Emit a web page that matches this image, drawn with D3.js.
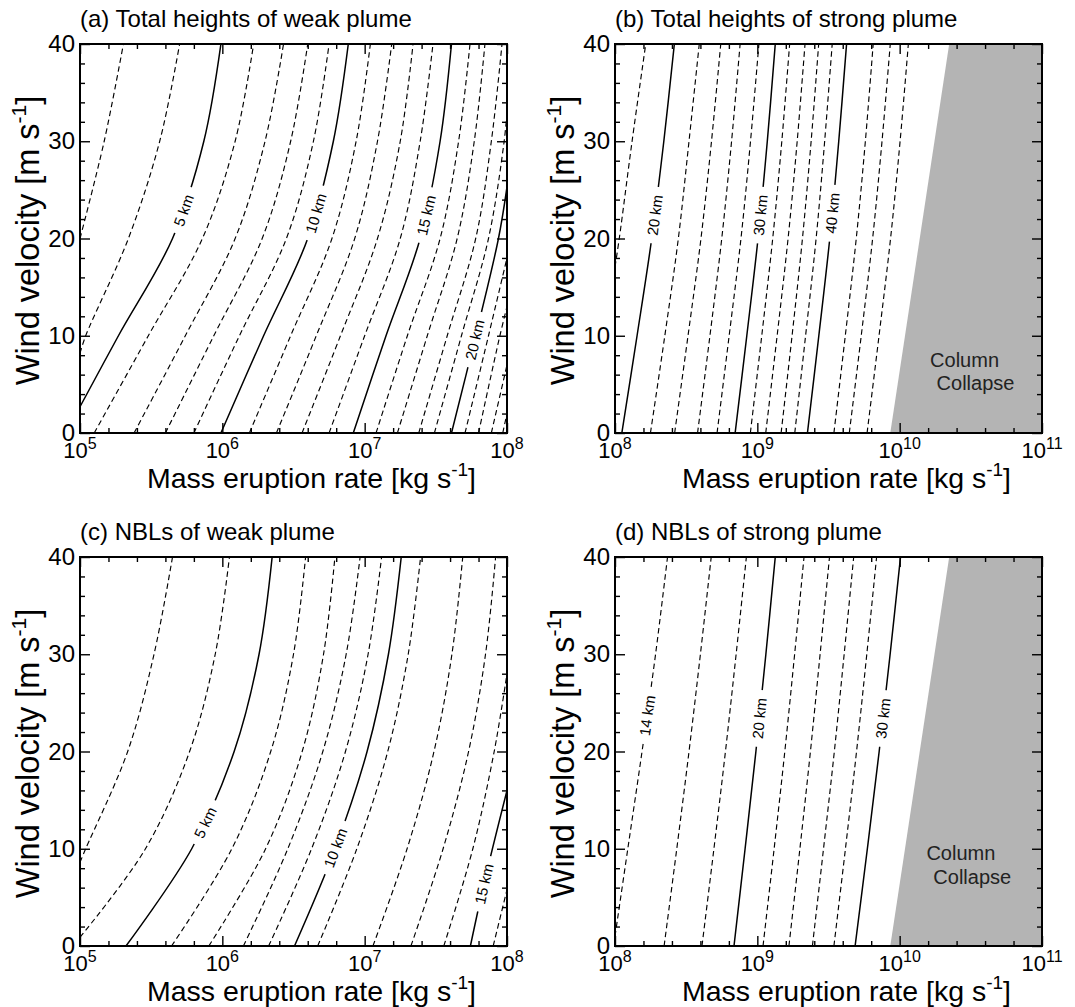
<!DOCTYPE html>
<html>
<head>
<meta charset="utf-8">
<script src="https://d3js.org/d3.v7.min.js"></script>
<style>
  body { margin: 0; background: #fff; }
  svg text { font-family: 'Liberation Sans', Arial, sans-serif; fill: #000; }
</style>
</head>
<body>
<div id="chart"></div>
<script>
// Contour lines: each line is a list of [wind velocity, log10(MER)] points.
// Edge points mark where a line enters or leaves the frame.

var windTicks = [0, 10, 20, 30, 40];
var weakDecades = [5, 6, 7, 8];
var strongDecades = [8, 9, 10, 11];

// (a) total heights of weak plume, 1 km interval
var aLevels = [3, 4, 5, 6, 7, 8, 9, 10, 11, 12, 13, 14, 15, 16, 17, 18, 19, 20, 21, 22, 23, 24];
var aLines = [
  [[20, 5.0], [30, 5.17], [40, 5.305]],
  [[8.2, 5.0], [10, 5.04], [20, 5.34], [30, 5.56], [40, 5.70]],
  [[2.7, 5.0], [10, 5.27], [20, 5.65], [30, 5.87], [40, 5.99]],
  [[0, 5.10], [10, 5.48], [20, 5.86], [30, 6.09], [40, 6.22]],
  [[0, 5.38], [10, 5.74], [20, 6.09], [30, 6.30], [40, 6.43]],
  [[0, 5.60], [10, 5.94], [20, 6.28], [30, 6.48], [40, 6.60]],
  [[0, 5.80], [10, 6.12], [20, 6.45], [30, 6.64], [40, 6.75]],
  [[0, 5.99], [10, 6.29], [20, 6.60], [30, 6.78], [40, 6.885]],
  [[0, 6.19], [10, 6.48], [20, 6.77], [30, 6.94], [40, 7.04]],
  [[0, 6.38], [10, 6.66], [20, 6.93], [30, 7.09], [40, 7.19]],
  [[0, 6.56], [10, 6.83], [20, 7.09], [30, 7.25], [40, 7.34]],
  [[0, 6.75], [10, 7.00], [20, 7.25], [30, 7.39], [40, 7.48]],
  [[0, 6.92], [10, 7.15], [20, 7.39], [30, 7.53], [40, 7.61]],
  [[0, 7.08], [10, 7.30], [20, 7.53], [30, 7.66], [40, 7.74]],
  [[0, 7.23], [10, 7.44], [20, 7.65], [30, 7.77], [40, 7.845]],
  [[0, 7.38], [10, 7.58], [20, 7.78], [30, 7.89], [40, 7.965]],
  [[0, 7.49], [10, 7.68], [20, 7.87], [30, 7.98], [33, 8.0]],
  [[0, 7.61], [10, 7.78], [20, 7.94], [25.3, 8.0]],
  [[0, 7.705], [10, 7.87], [18, 8.0]],
  [[0, 7.80], [10, 7.95], [13, 8.0]],
  [[0, 7.89], [7, 8.0]],
  [[0, 7.97], [2, 8.0]]
];
var aSolid = [5, 10, 15, 20];
var aLabels = [[5, 22.9], [10, 22.6], [15, 22.4], [20, 9.6]];

// (b) total heights of strong plume, 2 km interval
var bLevels = [18, 20, 22, 24, 26, 28, 30, 32, 34, 36, 38, 40, 44, 46, 48];
var bLines = [
  [[17.1, 8.0], [20, 8.03], [30, 8.12], [40, 8.216]],
  [[0, 8.048], [10, 8.155], [20, 8.258], [30, 8.343], [40, 8.417]],
  [[0, 8.249], [10, 8.35], [20, 8.445], [30, 8.52], [40, 8.592]],
  [[0, 8.419], [10, 8.513], [20, 8.604], [30, 8.678], [40, 8.743]],
  [[0, 8.58], [10, 8.667], [20, 8.75], [30, 8.819], [40, 8.879]],
  [[0, 8.717], [10, 8.802], [20, 8.885], [30, 8.952], [40, 9.011]],
  [[0, 8.844], [10, 8.926], [20, 9.005], [30, 9.07], [40, 9.126]],
  [[0, 8.951], [10, 9.031], [20, 9.108], [30, 9.172], [40, 9.227]],
  [[0, 9.059], [10, 9.139], [20, 9.216], [30, 9.28], [40, 9.335]],
  [[0, 9.167], [10, 9.244], [20, 9.317], [30, 9.378], [40, 9.431]],
  [[0, 9.263], [10, 9.339], [20, 9.413], [30, 9.473], [40, 9.526]],
  [[0, 9.352], [10, 9.432], [20, 9.509], [30, 9.572], [40, 9.627]],
  [[0, 9.538], [10, 9.618], [20, 9.695], [30, 9.759], [40, 9.814]],
  [[0, 9.646], [10, 9.73], [20, 9.81], [30, 9.876], [40, 9.934]],
  [[0, 9.771], [10, 9.855], [20, 9.936], [30, 10.003], [40, 10.061]]
];
var bSolid = [20, 30, 40];
var bLabels = [[20, 22.4], [30, 22.4], [40, 22.6]];

// (c) NBLs of weak plume, 1 km interval
var cLevels = [3, 4, 5, 6, 7, 8, 9, 10, 11, 12, 13, 14, 15, 16];
var cLines = [
  [[8.6, 5.0], [10, 5.04], [20, 5.335], [30, 5.52], [40, 5.65]],
  [[0.9, 5.0], [10, 5.46], [20, 5.77], [30, 5.95], [40, 6.05]],
  [[0, 5.323], [10, 5.785], [20, 6.083], [30, 6.258], [40, 6.35]],
  [[0, 5.643], [10, 6.067], [20, 6.34], [30, 6.50], [40, 6.585]],
  [[0, 5.905], [10, 6.304], [20, 6.561], [30, 6.711], [40, 6.791]],
  [[0, 6.148], [10, 6.46], [20, 6.706], [30, 6.87], [40, 6.968]],
  [[0, 6.325], [10, 6.627], [20, 6.865], [30, 7.024], [40, 7.119]],
  [[0, 6.507], [10, 6.792], [20, 7.017], [30, 7.167], [40, 7.257]],
  [[0, 6.67], [10, 6.945], [20, 7.162], [30, 7.306], [40, 7.393]],
  [[0, 7.058], [10, 7.298], [20, 7.487], [30, 7.613], [40, 7.689]],
  [[0, 7.325], [10, 7.551], [20, 7.73], [30, 7.849], [40, 7.92]],
  [[0, 7.556], [10, 7.76], [20, 7.91], [28, 8.0]],
  [[0, 7.743], [6.5, 7.84], [16, 8.0]],
  [[0, 7.903], [5.8, 8.0]]
];
var cSolid = [5, 10, 15];
var cLabels = [[5, 12.7], [10, 10.1], [15, 6.4]];

// (d) NBLs of strong plume, 2 km interval
var dLevels = [14, 16, 18, 20, 22, 24, 26, 28, 30];
var dLines = [
  [[1.0, 8.0], [10, 8.09], [20, 8.19], [30, 8.285], [40, 8.369]],
  [[0, 8.345], [10, 8.434], [20, 8.52], [30, 8.60], [40, 8.676]],
  [[0, 8.611], [10, 8.695], [20, 8.776], [30, 8.851], [40, 8.923]],
  [[0, 8.836], [10, 8.914], [20, 8.99], [30, 9.06], [40, 9.126]],
  [[0, 9.04], [10, 9.118], [20, 9.193], [30, 9.262], [40, 9.328]],
  [[0, 9.222], [10, 9.299], [20, 9.373], [30, 9.441], [40, 9.507]],
  [[0, 9.387], [10, 9.465], [20, 9.541], [30, 9.61], [40, 9.677]],
  [[0, 9.538], [10, 9.619], [20, 9.697], [30, 9.769], [40, 9.838]],
  [[0, 9.687], [10, 9.773], [20, 9.856], [30, 9.933], [40, 10.006]]
];
var dSolid = [20, 30];
var dLabels = [[14, 23.7], [20, 23.4], [30, 23.4]];

// column collapse boundary (wind velocity, log10 MER)
var collapseWind = [0, 40];
var collapseMer = [9.934, 10.348];
// "Column Collapse" text anchors: [log10 MER, wind velocity] per line of text
var bCollapseText = [[10.456, 7.5], [10.533, 5.1]];
var dCollapseText = [[10.43, 9.6], [10.51, 7.05]];

var panels = [
  {id: "a", title: "(a) Total heights of weak plume", x0: 80, y0: 44, dec: weakDecades,
   levels: aLevels, lines: aLines, solid: aSolid, labels: aLabels, collapse: null},
  {id: "b", title: "(b) Total heights of strong plume", x0: 615, y0: 44, dec: strongDecades,
   levels: bLevels, lines: bLines, solid: bSolid, labels: bLabels, collapse: bCollapseText},
  {id: "c", title: "(c) NBLs of weak plume", x0: 80, y0: 557, dec: weakDecades,
   levels: cLevels, lines: cLines, solid: cSolid, labels: cLabels, collapse: null},
  {id: "d", title: "(d) NBLs of strong plume", x0: 615, y0: 557, dec: strongDecades,
   levels: dLevels, lines: dLines, solid: dSolid, labels: dLabels, collapse: dCollapseText}
];

var pw = 427, ph = 389;

var svg = d3.select("#chart")
  .append("svg")
  .attr("width", 1075)
  .attr("height", 1007);

panels.forEach(function (p) {
  var g = svg.append("g").attr("transform", "translate(" + p.x0 + "," + p.y0 + ")");

  var x = d3.scaleLog()
    .domain([Math.pow(10, p.dec[0]), Math.pow(10, p.dec[p.dec.length - 1])])
    .range([0, pw]);
  var y = d3.scaleLinear().domain([0, 40]).range([ph, 0]);

  g.append("clipPath").attr("id", "clip-" + p.id)
    .append("rect").attr("width", pw).attr("height", ph);

  var mask = g.append("mask").attr("id", "mask-" + p.id)
    .attr("maskUnits", "userSpaceOnUse")
    .attr("x", -10).attr("y", -10).attr("width", pw + 20).attr("height", ph + 20);
  mask.append("rect").attr("x", -10).attr("y", -10)
    .attr("width", pw + 20).attr("height", ph + 20).attr("fill", "#fff");

  var plot = g.append("g").attr("clip-path", "url(#clip-" + p.id + ")");

  // collapse region
  if (p.collapse) {
    var xmax = x.domain()[1];
    var poly = [
      [Math.pow(10, collapseMer[0]), collapseWind[0]],
      [Math.pow(10, collapseMer[1]), collapseWind[1]],
      [xmax, collapseWind[1]],
      [xmax, collapseWind[0]]
    ];
    plot.append("path")
      .attr("d", d3.line().x(function (d) { return x(d[0]); }).y(function (d) { return y(d[1]); })(poly) + "Z")
      .attr("fill", "#b4b4b4");
    g.selectAll(".collapse-text")
      .data(p.collapse)
      .enter().append("text")
      .attr("x", function (d) { return x(Math.pow(10, d[0])); })
      .attr("y", function (d) { return y(d[1]); })
      .attr("text-anchor", "middle").attr("dy", "0.35em")
      .style("font-size", "20px").style("fill", "#222")
      .text(function (d, i) { return i === 0 ? "Column" : "Collapse"; });
  }

  var lineGen = d3.line()
    .x(function (d) { return x(Math.pow(10, d[1])); })
    .y(function (d) { return y(d[0]); })
    .curve(d3.curveCatmullRom.alpha(0.5));

  var lines = plot.append("g").attr("mask", "url(#mask-" + p.id + ")");
  var paths = lines.selectAll("path")
    .data(p.lines)
    .enter().append("path")
    .attr("d", lineGen)
    .attr("fill", "none")
    .attr("stroke", "#000")
    .attr("stroke-width", function (d, i) { return p.solid.indexOf(p.levels[i]) >= 0 ? 1.5 : 1.15; })
    .attr("stroke-dasharray", function (d, i) { return p.solid.indexOf(p.levels[i]) >= 0 ? null : "5.5,3.5"; });

  // inline contour labels
  p.labels.forEach(function (lab) {
    var node = paths.nodes()[p.levels.indexOf(lab[0])];
    var total = node.getTotalLength();
    var target = y(lab[1]);
    var lo = 0, hi = total;
    for (var k = 0; k < 40; k++) {
      var mid = (lo + hi) / 2;
      if (node.getPointAtLength(mid).y > target) lo = mid; else hi = mid;
    }
    var s = (lo + hi) / 2;
    var pt = node.getPointAtLength(s);
    var a = node.getPointAtLength(Math.max(0, s - 3));
    var b = node.getPointAtLength(Math.min(total, s + 3));
    var ang = Math.atan2(b.y - a.y, b.x - a.x) * 180 / Math.PI;
    var tr = "translate(" + pt.x + "," + pt.y + ") rotate(" + ang + ")";
    var t = g.append("text")
      .attr("transform", tr)
      .attr("text-anchor", "middle")
      .attr("dy", "0.36em")
      .style("font-size", "15px")
      .text(lab[0] + " km");
    var len = t.node().getComputedTextLength();
    mask.append("rect")
      .attr("transform", tr)
      .attr("x", -len / 2 - 8).attr("y", -4)
      .attr("width", len + 16).attr("height", 8)
      .attr("fill", "#000");
  });

  // ticks
  var majorX = p.dec.map(function (e) { return Math.pow(10, e); });
  var minorX = d3.range(p.dec[0] * 5, p.dec[p.dec.length - 1] * 5 + 1)
    .filter(function (k) { return k % 5 !== 0; })
    .map(function (k) { return Math.pow(10, k / 5); });
  var minorY = d3.range(0, 41, 2).filter(function (v) { return v % 10 !== 0; });

  function tickAxis(axis, values, size, tx, ty) {
    var ag = g.append("g").attr("transform", "translate(" + tx + "," + ty + ")")
      .call(axis.tickValues(values).tickSize(size).tickFormat(""));
    ag.select(".domain").remove();
    ag.selectAll("line").attr("stroke", "#000").attr("stroke-width", 1.4);
  }
  tickAxis(d3.axisBottom(x), majorX, -10, 0, ph);
  tickAxis(d3.axisBottom(x), minorX, -5, 0, ph);
  tickAxis(d3.axisTop(x), majorX, -10, 0, 0);
  tickAxis(d3.axisTop(x), minorX, -5, 0, 0);
  tickAxis(d3.axisLeft(y), windTicks, -10, 0, 0);
  tickAxis(d3.axisLeft(y), minorY, -5, 0, 0);
  tickAxis(d3.axisRight(y), windTicks, -10, pw, 0);
  tickAxis(d3.axisRight(y), minorY, -5, pw, 0);

  // frame
  g.append("rect").attr("width", pw).attr("height", ph)
    .attr("fill", "none").attr("stroke", "#000").attr("stroke-width", 2);

  // tick labels
  g.selectAll(".xlab").data(p.dec).enter().append("text")
    .attr("x", function (e) { return x(Math.pow(10, e)); })
    .attr("y", ph + 25)
    .attr("text-anchor", "middle")
    .style("font-size", "22px")
    .each(function (e) {
      var t = d3.select(this);
      t.append("tspan").text("10");
      t.append("tspan").attr("dy", -9).style("font-size", "16px").text(e);
    });
  g.selectAll(".ylab").data(windTicks).enter().append("text")
    .attr("x", -5)
    .attr("y", function (v) { return y(v); })
    .attr("dy", "0.34em")
    .attr("text-anchor", "end")
    .style("font-size", "24px")
    .text(function (v) { return v; });

  // title
  g.append("text").attr("x", 0).attr("y", -17)
    .style("font-size", "24px")
    .text(p.title);

  // axis titles
  var xt = g.append("text")
    .attr("x", pw / 2 + 18).attr("y", ph + 55)
    .attr("text-anchor", "middle")
    .style("font-size", "28.5px");
  xt.append("tspan").text("Mass eruption rate [kg s");
  xt.append("tspan").attr("dy", -12).style("font-size", "19px").text("-1");
  xt.append("tspan").attr("dy", 12).text("]");

  var yt = g.append("text")
    .attr("transform", "translate(-53," + (ph / 2 + 2) + ") rotate(-90)")
    .attr("text-anchor", "middle")
    .attr("dy", "0.36em")
    .style("font-size", "32.5px");
  yt.append("tspan").text("Wind velocity [m s");
  yt.append("tspan").attr("dy", -13).style("font-size", "21px").text("-1");
  yt.append("tspan").attr("dy", 13).text("]");
});
</script>
</body>
</html>
